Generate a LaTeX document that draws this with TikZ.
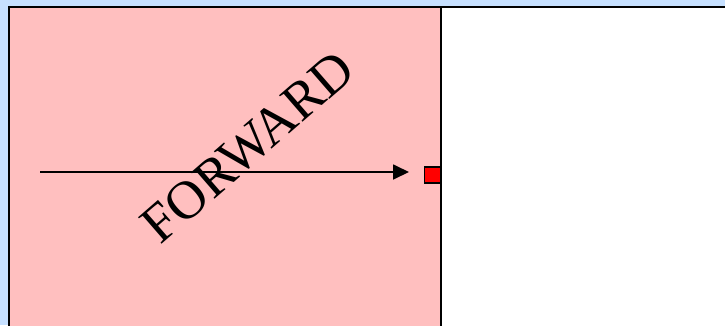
\documentclass[tikz,border=0pt]{standalone}
\usepackage{fontspec}
\setmainfont{Liberation Serif}
\usetikzlibrary{arrows.meta}
\definecolor{bgblue}{RGB}{198,224,255}
\definecolor{panelpink}{RGB}{255,191,191}

\begin{document}
\begin{tikzpicture}[x=1pt, y=-1pt]
    % Background
    \fill[bgblue] (0,0) rectangle (725,325);
    \useasboundingbox (0,0) rectangle (725,325);

    % Panels
    \fill[panelpink] (9,7) rectangle (441,326);
    \fill[white] (441,7) rectangle (726,326);
    \draw[line width=2.2pt] (9,326) -- (9,7) -- (726,7);
    \draw[line width=2.2pt] (441,7) -- (441,326);

    % Marker and arrow
    \node[draw, fill=red, line width=1.5pt, minimum size=16pt, inner sep=0pt, anchor=east] (marker) at (441,175) {};
    \coordinate (start) at (40,172);
    \coordinate (tip) at (409,172);
    \draw[-{Triangle[length=16pt, width=15pt]}, line width=1.8pt] (start) -- (tip);

    % Label
    \node[rotate=41, font=\fontsize{54}{60}\selectfont, inner sep=0pt] (label) at (248,147) {FORWARD};
\end{tikzpicture}
\end{document}
